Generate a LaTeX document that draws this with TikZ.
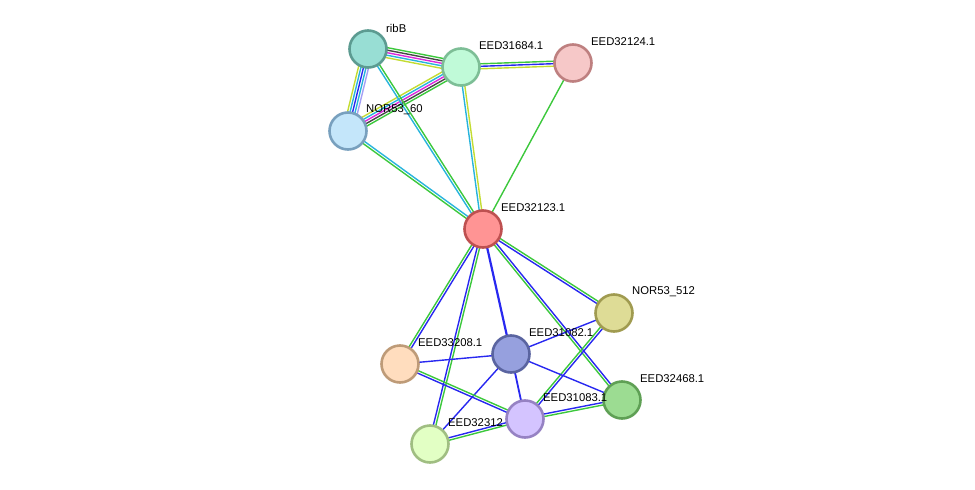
\documentclass[tikz,border=0pt]{standalone}
\usepackage{fontspec}
\setmainfont{Liberation Sans}
\usetikzlibrary{calc}
\definecolor{cgreen}{RGB}{60,200,60}
\definecolor{cblack}{RGB}{70,70,70}
\definecolor{cmag}{RGB}{220,40,220}
\definecolor{ccyan}{RGB}{40,180,220}
\definecolor{cyel}{RGB}{195,220,50}
\definecolor{cblue}{RGB}{40,40,240}
\definecolor{clav}{RGB}{165,160,245}
\tikzset{
  prot/.style={circle, minimum size=37pt, inner sep=0pt, line width=2.6pt},
  plabel/.style={anchor=west, inner sep=0pt, font=\fontsize{11.3}{13}\selectfont},
  eline/.style={line width=1.4pt}
}
\newcommand{\medge}[3]{%
  \xdef\nn{0}%
  \foreach \c in {#3}{\pgfmathparse{int(\nn+1)}\xdef\nn{\pgfmathresult}}%
  \foreach \c [count=\i] in {#3}{%
    \pgfmathsetmacro{\off}{(\i-(\nn+1)/2)*2.5}%
    \draw[eline,\c] ($(#1)!\off pt!90:(#2)$) -- ($(#2)!\off pt!-90:(#1)$);
  }%
}
\begin{document}
\begin{tikzpicture}[x=1pt,y=-1pt]
\useasboundingbox (0,0) rectangle (975,490);
% centres
\coordinate (ribB) at (368,49);
\coordinate (e31684) at (461,67);
\coordinate (e32124) at (573,63);
\coordinate (n60) at (348,131);
\coordinate (e32123) at (483,229);
\coordinate (n512) at (614,313);
\coordinate (e31082) at (511,354);
\coordinate (e33208) at (400,364);
\coordinate (e32468) at (622,400);
\coordinate (e31083) at (525,419);
\coordinate (e32312) at (430,444);
% edges
\medge{ribB}{e31684}{cyel,ccyan,cmag,cblack,cgreen}
\medge{ribB}{n60}{cyel,ccyan,cblue,ccyan,clav}
\medge{n60}{e31684}{cgreen,cblack,cmag,ccyan,cyel}
\medge{e31684}{e32124}{cyel,cblue,cgreen}
\medge{e31684}{e32123}{ccyan,cyel}
\medge{ribB}{e32123}{ccyan,cgreen}
\medge{n60}{e32123}{cgreen,ccyan}
\medge{e32124}{e32123}{cgreen}
\medge{e32123}{n512}{cblue,cgreen}
\medge{e32123}{e32468}{cgreen,cblue}
\medge{e32123}{e33208}{cgreen,cblue}
\medge{e32123}{e32312}{cblue,cgreen}
\draw[cblue,line width=2.2pt] (e32123) -- (e31082);
\medge{n512}{e31082}{cblue}
\medge{n512}{e31083}{cgreen,cblue}
\medge{e31082}{e33208}{cblue}
\medge{e31082}{e32468}{cblue}
\draw[cblue,line width=1.8pt] (e31082) -- (e31083);
\medge{e31082}{e32312}{cblue}
\medge{e33208}{e31083}{cblue,cgreen}
\medge{e31083}{e32468}{cgreen,cblue}
\medge{e32312}{e31083}{cgreen,cblue}
% proteins
\node[prot, fill={rgb,255:red,152;green,222;blue,212}, draw={rgb,255:red,92;green,155;blue,145}] (nribB) at (ribB) {};
\node[prot, fill={rgb,255:red,192;green,250;blue,216}, draw={rgb,255:red,125;green,190;blue,150}] (n31684) at (e31684) {};
\node[prot, fill={rgb,255:red,246;green,200;blue,200}, draw={rgb,255:red,190;green,128;blue,128}] (n32124) at (e32124) {};
\node[prot, fill={rgb,255:red,196;green,230;blue,250}, draw={rgb,255:red,120;green,160;blue,190}] (nn60) at (n60) {};
\node[prot, fill={rgb,255:red,255;green,148;blue,148}, draw={rgb,255:red,190;green,80;blue,80}] (n32123) at (e32123) {};
\node[prot, fill={rgb,255:red,222;green,220;blue,150}, draw={rgb,255:red,160;green,155;blue,80}] (nn512) at (n512) {};
\node[prot, fill={rgb,255:red,150;green,160;blue,222}, draw={rgb,255:red,90;green,100;blue,160}] (n31082) at (e31082) {};
\node[prot, fill={rgb,255:red,255;green,221;blue,190}, draw={rgb,255:red,190;green,155;blue,120}] (n33208) at (e33208) {};
\node[prot, fill={rgb,255:red,156;green,220;blue,146}, draw={rgb,255:red,95;green,160;blue,85}] (n32468) at (e32468) {};
\node[prot, fill={rgb,255:red,226;green,255;blue,196}, draw={rgb,255:red,160;green,190;blue,130}] (n32312) at (e32312) {};
\node[plabel] (l32312) at ($(e32312)+(18,-21)$) {EED32312};
\node[prot, fill={rgb,255:red,212;green,196;blue,255}, draw={rgb,255:red,150;green,130;blue,195}] (n31083) at (e31083) {};
% labels
\node[plabel] (lribB) at ($(ribB)+(18,-21)$) {ribB};
\node[plabel] (l31684) at ($(e31684)+(18,-21)$) {EED31684.1};
\node[plabel] (l32124) at ($(e32124)+(18,-21)$) {EED32124.1};
\node[plabel] (l60) at ($(n60)+(18,-21)$) {NOR53\_60};
\node[plabel] (l32123) at ($(e32123)+(18,-21)$) {EED32123.1};
\node[plabel] (l512) at ($(n512)+(18,-21)$) {NOR53\_512};
\node[plabel] (l31082) at ($(e31082)+(18,-21)$) {EED31082.1};
\node[plabel] (l33208) at ($(e33208)+(18,-21)$) {EED33208.1};
\node[plabel] (l32468) at ($(e32468)+(18,-21)$) {EED32468.1};
\node[plabel] (l31083) at ($(e31083)+(18,-21)$) {EED31083.1};
\end{tikzpicture}
\end{document}
